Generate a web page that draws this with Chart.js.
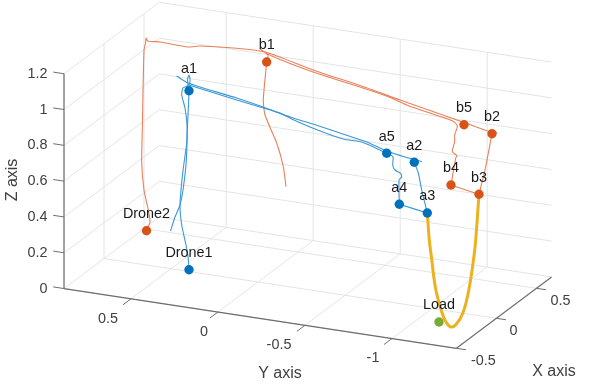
<!DOCTYPE html>
<html>
<head>
<meta charset="utf-8">
<title>Drone trajectories</title>
<script src="https://cdn.jsdelivr.net/npm/chart.js@4/dist/chart.umd.js"></script>
<style>
  html, body { margin: 0; padding: 0; background: #fff; }
  canvas { display: block; }
</style>
</head>
<body>
<canvas id="chart" width="589" height="386"></canvas>
<script>
// axis ticks (data units of the 3D box)
var xTicks = [-0.5, 0, 0.5];
var yTicks = [0.5, 0, -0.5, -1];
var zTicks = [0, 0.2, 0.4, 0.6, 0.8, 1, 1.2];
var xRange = [-0.5, 0.69];
var yRange = [-1.37, 0.885];
var zRange = [0, 1.2];

// trajectories, in the plane of the view
var drone1Down = [[189,269.7],[188,256],[186,245],[181.7,225],[180,205],[182.7,173],[186.7,143],[187.5,125],[188.5,105],[189,90.7]];
var drone1Start = [[170.5,231],[175,217],[180,205],[183,190],[186,165],[187,143],[187,125],[185,108],[181.7,95],[183,88],[189,85],[190,79],[189,75],[187.5,79],[188,86]];
var a1ToA5Upper = [[176.7,76],[186,82],[200,87],[236.7,98],[263,107],[290,117],[313,124],[340,133],[366.7,142],[386.7,151],[405,157],[422,161.7]];
var a1ToA5Lower = [[189,85],[200,88.5],[236.7,100],[263.3,108],[280,113],[291.7,119],[315,129],[343,139],[363,142.5],[386.7,153.3]];
var a5ToA4 = [[386.7,153.3],[393,156.7],[392.7,165],[395,170],[400.7,173.3],[401.7,177],[399,180],[399.3,204.3]];
var a4ToA3 = [[399.3,204.3],[427.3,213]];
var a3ToA2 = [[427.3,213],[421.7,190],[418.3,173],[414.3,162.3]];

var drone2Up = [[146.5,230.7],[150,221.7],[148.3,210],[144,190],[141.7,163],[142.3,130],[144,50],[145.7,42],[146,38],[147.7,41],[160,42],[188,47],[200,46],[226.7,47.5],[256.7,50.5],[271.7,54],[313,70],[360,85.5],[400,100],[430,110.5],[464,122.5],[492,132.5],[497,132.7]];
var b1Strand = [[266.7,62],[268,55],[260,49],[271.7,56],[313,72],[360,87],[389,97],[409,106],[452.3,120.7],[457,125],[457,128],[454.7,135],[454.7,141.7],[452.3,151.7],[457,155.7],[455.7,158],[451,185]];
var b1Tail = [[266.7,62],[263.3,100],[265,115],[276.7,143],[283.3,166.7],[286,186.7]];
var b4ToB3 = [[451,185],[479,194.3]];
var b3ToB2 = [[479,194.3],[485,170],[492,133.7]];

var loadRope = [[427.3,213],[429.3,240],[431.3,256],[435.7,289],[442,312.7],[446,322],[451,327],[456,324.5],[463,312.7],[469,289],[474,256],[475.7,240],[479,194.3]];

// named marks
var blueNames = ["a1","a2","a3","a4","a5","Drone1"];
var bluePoints = [[189,90.7],[414.3,162.3],[427.3,213],[399.3,204.3],[386.7,153.3],[189,269.7]];
var orangeNames = ["b1","b2","b3","b4","b5","Drone2"];
var orangePoints = [[266.7,62],[492,133.7],[479,194.3],[451,185],[464,124.7],[146.5,230.7]];
var loadName = "Load";
var loadPoint = [439,322];

var axisColor = "#6e6e6e";
var gridColor = "#e4e4e4";
var textColor = "#404040";
var blue = "#0072BD";
var orange = "#D95319";
var blueLine = "#3b97d6";
var orangeLine = "#e8815a";

// orthographic view of the box
function project(x, y, z) {
  return { x: 258 + 80 * x - 174 * y, y: 282 - 60 * x - 26.5 * y - 179 * z };
}

function toXY(list) {
  return list.map(function(p) { return { x: p[0], y: p[1] }; });
}

var datasets = [];

function addLine(points, color, width, order, tension) {
  datasets.push({
    data: points,
    showLine: true,
    borderColor: color,
    borderWidth: width,
    pointRadius: 0,
    tension: tension || 0,
    fill: false,
    order: order
  });
}

function addSeg(a, b, color, width, order) {
  addLine([a, b], color, width, order);
}

function addDots(points, color, order) {
  datasets.push({
    data: toXY(points),
    showLine: false,
    pointRadius: 4.7,
    pointBorderWidth: 0,
    pointBackgroundColor: color,
    order: order
  });
}

// grid on the floor and the two back walls
var xMin = xRange[0], xMax = xRange[1], yMin = yRange[0], yMax = yRange[1], zMax = zRange[1];
xTicks.forEach(function(x) {
  addSeg(project(x, yMin, 0), project(x, yMax, 0), gridColor, 1, 50);
  addSeg(project(x, yMax, 0), project(x, yMax, zMax), gridColor, 1, 50);
});
yTicks.forEach(function(y) {
  addSeg(project(xMin, y, 0), project(xMax, y, 0), gridColor, 1, 50);
  addSeg(project(xMax, y, 0), project(xMax, y, zMax), gridColor, 1, 50);
});
zTicks.forEach(function(z) {
  addSeg(project(xMin, yMax, z), project(xMax, yMax, z), gridColor, 1, 50);
  addSeg(project(xMax, yMax, z), project(xMax, yMin, z), gridColor, 1, 50);
});

// box axes and tick marks
addSeg(project(xMin, yMax, 0), project(xMin, yMax, zMax), axisColor, 1.2, 40);
addSeg(project(xMin, yMax, 0), project(xMin, yMin, 0), axisColor, 1.2, 40);
addSeg(project(xMin, yMin, 0), project(xMax, yMin, 0), axisColor, 1.2, 40);
zTicks.forEach(function(z) {
  addSeg(project(xMin, yMax, z), project(xMin, yMax + 0.062, z), axisColor, 1, 40);
});
yTicks.forEach(function(y) {
  addSeg(project(xMin, y, 0), project(xMin - 0.1, y, 0), axisColor, 1, 40);
});
xTicks.forEach(function(x) {
  addSeg(project(x, yMin, 0), project(x, yMin - 0.055, 0), axisColor, 1, 40);
});

// trajectories
[drone1Down, drone1Start, a1ToA5Upper, a1ToA5Lower, a5ToA4, a4ToA3, a3ToA2].forEach(function(t) {
  addLine(toXY(t), blueLine, 1.1, 30, 0.2);
});
[drone2Up, b1Strand, b1Tail, b4ToB3, b3ToB2].forEach(function(t) {
  addLine(toXY(t), orangeLine, 1.1, 30, 0.2);
});
addDots([loadPoint], "#77AC30", 25);
addLine(toXY(loadRope), "#EDB120", 3, 20, 0.4);
addDots(bluePoints, blue, 10);
addDots(orangePoints, orange, 10);

var tickFont = "14.4px 'Liberation Sans', Arial, sans-serif";
var titleFont = "16px 'Liberation Sans', Arial, sans-serif";

// tick labels sit a little unevenly off their ticks in the original
var yLabelNudge = [-23, -14, -26, -19];
var xLabelNudge = [27, 17, 24];

// texts: Chart.js cannot lay out the oblique axes, so they are placed here
var textPlugin = {
  id: "boxText",
  afterDatasetsDraw: function(chart) {
    var ctx = chart.ctx;
    var sx = chart.scales.x, sy = chart.scales.y;

    function put(text, u, v, font, color, align) {
      ctx.font = font;
      ctx.fillStyle = color;
      ctx.textAlign = align || "center";
      ctx.textBaseline = "middle";
      ctx.fillText(text, sx.getPixelForValue(u), sy.getPixelForValue(v));
    }

    zTicks.forEach(function(z) {
      var p = project(xMin, yMax, z);
      put(String(z), 47.5, p.y, tickFont, textColor, "right");
    });
    yTicks.forEach(function(y, i) {
      var p = project(xMin, y, 0);
      put(String(y), p.x + yLabelNudge[i], p.y + 20, tickFont, textColor);
    });
    xTicks.forEach(function(x, i) {
      var p = project(x, yMin, 0);
      put(String(x), p.x + xLabelNudge[i], p.y + 13, tickFont, textColor);
    });

    put("Y axis", 280, 373.7, titleFont, textColor);
    put("X axis", 554, 371.7, titleFont, textColor);
    ctx.save();
    ctx.translate(sx.getPixelForValue(12.7), sy.getPixelForValue(180));
    ctx.rotate(-Math.PI / 2);
    ctx.font = titleFont;
    ctx.fillStyle = textColor;
    ctx.textAlign = "center";
    ctx.textBaseline = "middle";
    ctx.fillText("Z axis", 0, 0);
    ctx.restore();

    function names(list, points) {
      list.forEach(function(name, i) {
        var lift = name === "a1" ? 21.7 : 16.5;
        put(name, points[i][0], points[i][1] - lift, tickFont, "#1a1a1a");
      });
    }
    names(blueNames, bluePoints);
    names(orangeNames, orangePoints);
    put(loadName, loadPoint[0], loadPoint[1] - 17, tickFont, "#1a1a1a");
  }
};

new Chart(document.getElementById("chart"), {
  type: "scatter",
  data: { datasets: datasets },
  options: {
    responsive: false,
    animation: false,
    layout: { padding: 0, autoPadding: false },
    plugins: { legend: { display: false }, tooltip: { enabled: false } },
    scales: {
      x: { type: "linear", min: 0, max: 589, display: false },
      y: { type: "linear", min: 0, max: 386, reverse: true, display: false }
    }
  },
  plugins: [textPlugin]
});
</script>
</body>
</html>
